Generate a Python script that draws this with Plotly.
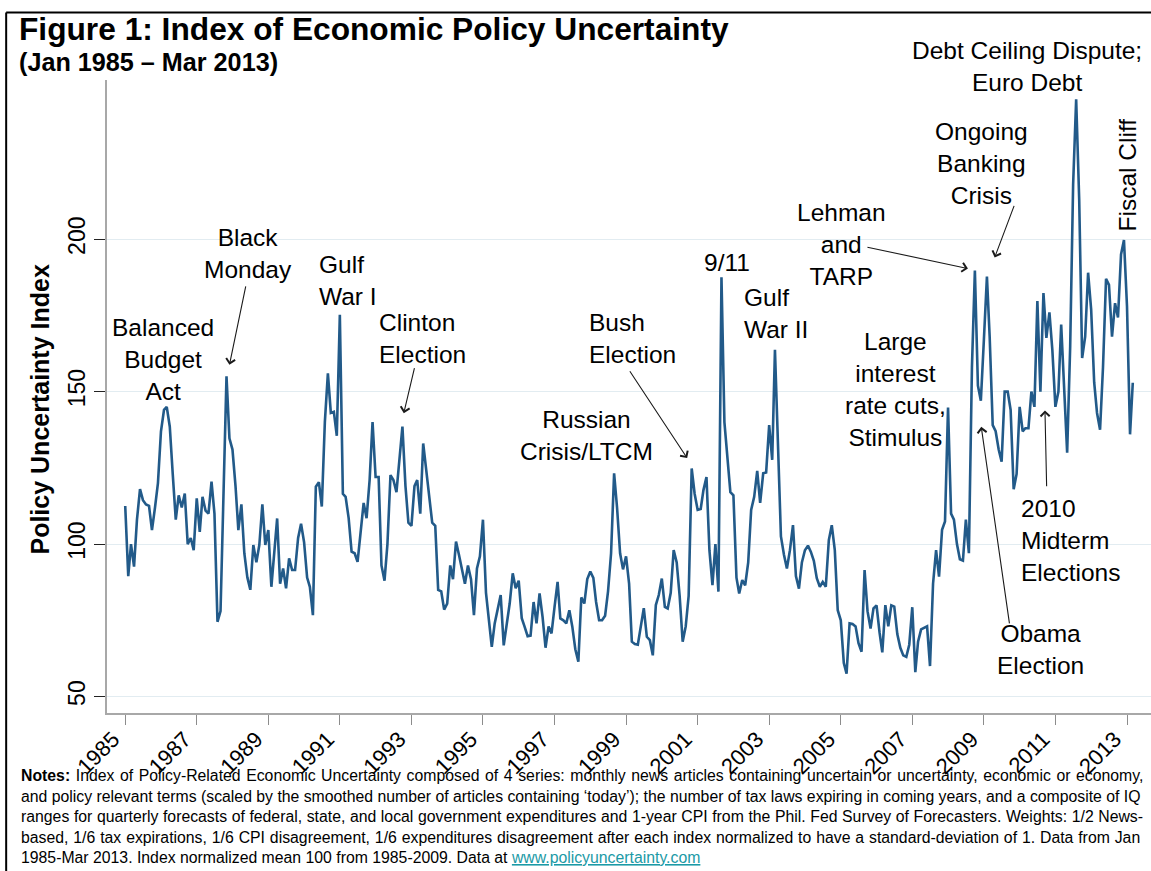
import pandas as pd
import plotly.graph_objects as go

# ---------------- data (monthly index) ----------------
epu_1985 = [112.5, 89.5, 100, 92.6, 108, 118, 114.4, 113, 112.5, 104.6, 112, 120]
epu_1986 = [137, 144, 145, 138.5, 123, 108, 116, 112, 116.6, 100, 102, 98]
epu_1987 = [115, 104, 115.5, 111, 110, 120.5, 110, 74.5, 78, 117, 155, 134.7]
epu_1988 = [131, 119, 104.6, 113, 97, 89, 85, 99.7, 94, 99.7, 113, 99.7]
epu_1989 = [104.6, 86, 97, 108.4, 87, 92, 85.5, 95.3, 91.5, 91.5, 102, 106.7]
epu_1990 = [100.6, 89, 86, 76.7, 118.8, 120.3, 112.3, 140, 156, 143, 143.4, 135.5]
epu_1991 = [175.2, 116.5, 115.5, 108.5, 97.5, 97, 94.2, 103, 113.5, 108.5, 121, 140]
epu_1992 = [122, 122, 93, 88, 100, 122.6, 121, 117, 127, 138.5, 119, 107]
epu_1993 = [106, 119, 121, 110, 133, 124, 116, 107, 106, 85, 84.5, 78.5]
epu_1994 = [80.5, 93, 88.5, 100.8, 96.5, 91.5, 87, 93, 88.5, 76.7, 92, 96]
epu_1995 = [108, 84, 76, 66.3, 74, 79, 83.3, 66.8, 74, 80.5, 90.4, 85.5]
epu_1996 = [88, 75.7, 72.9, 69.8, 70, 81, 74, 83.8, 76, 66, 73, 70.7]
epu_1997 = [79.4, 87.6, 75.6, 75, 74, 78.3, 73, 65.5, 61.4, 82.5, 80.5, 88.5]
epu_1998 = [91, 88.9, 81, 75, 75, 76.5, 84.5, 97, 123.2, 112, 97, 91.7]
epu_1999 = [96, 87, 68, 67.2, 67, 72.5, 79, 69.6, 68.5, 63.5, 80, 83.3]
epu_2000 = [88.7, 79.4, 78.9, 84, 98, 94, 83, 68, 73, 83, 124.8, 116.5]
epu_2001 = [111.2, 111.5, 117.7, 122, 98, 86.5, 100, 84.4, 187.5, 140, 128, 117]
epu_2002 = [116, 89, 83.8, 88.2, 86.5, 94, 111.2, 115.5, 124, 113.5, 123.2, 123.5]
epu_2003 = [139, 127.6, 163.7, 136, 102.5, 96.5, 92, 98, 106.2, 89.5, 85.4, 94]
epu_2004 = [98, 99.5, 97.5, 94.5, 88.8, 86, 87.6, 86, 101.3, 106.2, 98, 78.3]
epu_2005 = [75, 61, 57.5, 74, 73.8, 73, 67.5, 64.7, 91.5, 78, 72.3, 78.9]
epu_2006 = [79.9, 71, 64.5, 80, 73, 79.9, 79.5, 70.5, 66, 63.5, 63, 67]
epu_2007 = [79.3, 58, 68, 72, 72.5, 73, 60, 87, 98, 89.3, 104.7, 107.4]
epu_2008 = [144.8, 110, 108, 100, 95, 94.6, 108, 97, 158, 189.7, 152, 147]
epu_2009 = [167, 187.7, 168, 139, 137, 131, 127, 150, 150, 144, 118, 123]
epu_2010 = [145, 137, 138, 138, 150, 145, 179.7, 150, 182.3, 167.6, 176, 163.6]
epu_2011 = [145, 150, 172, 153, 130, 164.9, 218, 245.9, 213, 161, 168, 189]
epu_2012 = [177, 153, 143, 137.5, 158, 187, 185, 168, 179, 174.3, 195, 199.7]
epu_2013 = [178, 136, 152.9]

yearly = [epu_1985, epu_1986, epu_1987, epu_1988, epu_1989, epu_1990, epu_1991,
          epu_1992, epu_1993, epu_1994, epu_1995, epu_1996, epu_1997, epu_1998,
          epu_1999, epu_2000, epu_2001, epu_2002, epu_2003, epu_2004, epu_2005,
          epu_2006, epu_2007, epu_2008, epu_2009, epu_2010, epu_2011, epu_2012,
          epu_2013]
values = [v for yr in yearly for v in yr]
dates = pd.date_range("1985-01-01", periods=len(values), freq="MS")

tick_years = list(range(1985, 2014, 2))
y_ticks = [50, 100, 150, 200]

notes_lines = [
    "<b>Notes:</b> Index of Policy-Related Economic Uncertainty composed of 4 series: monthly news articles containing uncertain or uncertainty, economic or economy,",
    "and policy relevant terms (scaled by the smoothed number of articles containing \u2018today\u2019); the number of tax laws expiring in coming years, and a composite of IQ",
    "ranges for quarterly forecasts of federal, state, and local government expenditures and 1-year CPI from the Phil. Fed Survey of Forecasters. Weights: 1/2 News-",
    "based, 1/6 tax expirations, 1/6 CPI disagreement, 1/6 expenditures disagreement after each index normalized to have a standard-deviation of 1. Data from Jan",
    "1985-Mar 2013. Index normalized mean 100 from 1985-2009. Data at "
    "<span style='color:#1b9aa6'><u>www.policyuncertainty.com</u></span>",
]
notes_word_spacing = [1.2, 0.0, 0.2, 0.5, 0.0]

# ---------------- layout geometry (pixels) ----------------
W, H = 1151, 871
PL, PR, PT, PB = 107.3, 1151, 80, 713.3


def px(x):
    return (x - PL) / (PR - PL)


def py(y):
    return (PB - y) / (PB - PT)


FONT = "Liberation Sans, Arial, Helvetica, sans-serif"
LINE = "#225a89"

fig = go.Figure()
fig.add_trace(go.Scatter(x=dates, y=values, mode="lines",
                         line=dict(color=LINE, width=2.6), hoverinfo="skip",
                         showlegend=False))

annotations = []


def text(t, x, y, size=24.5, xanchor="center", align="center", angle=0,
         color="#000000", yanchor="middle"):
    annotations.append(dict(
        text=t, x=px(x), y=py(y), xref="paper", yref="paper",
        xanchor=xanchor, yanchor=yanchor, align=align, showarrow=False,
        textangle=angle,
        font=dict(family=FONT, size=size, color=color)))


def arrow(tail, tip):
    annotations.append(dict(
        text="", x=px(tip[0]), y=py(tip[1]), xref="paper", yref="paper",
        ax=tail[0] - tip[0], ay=tail[1] - tip[1], axref="pixel", ayref="pixel",
        showarrow=True, arrowhead=4, arrowsize=1.6, arrowwidth=1.1,
        arrowcolor="#1a1a1a", standoff=0, startstandoff=0))


# title block
text("<b>Figure 1: Index of Economic Policy Uncertainty</b>", 17, 29, size=31.7,
     xanchor="left", align="left")
text("<b>(Jan 1985 \u2013 Mar 2013)</b>", 17, 62, size=25.2, xanchor="left",
     align="left")
text("<b>Policy Uncertainty Index</b>", 40, 410, size=25, angle=-90)

# event labels
text("Balanced<br>Budget<br>Act", 163.5, 360)
text("Black<br>Monday", 248, 254)
text("Gulf<br>War I", 317, 281, xanchor="left", align="left")
text("Clinton<br>Election", 377, 339, xanchor="left", align="left")
text("Russian<br>Crisis/LTCM", 586.5, 436)
text("Bush<br>Election", 587, 339, xanchor="left", align="left")
text("9/11", 727, 263)
text("Gulf<br>War II", 742, 314, xanchor="left", align="left")
text("Lehman<br>and<br>TARP", 842, 245)
text("Large<br>interest<br>rate cuts,<br>Stimulus", 896, 390)
text("Ongoing<br>Banking<br>Crisis", 981.5, 164)
text("Debt Ceiling Dispute;<br>Euro Debt", 1027, 66)
text("Fiscal Cliff", 1127.5, 175, angle=-90)
text("2010<br>Midterm<br>Elections", 1019, 541, xanchor="left", align="left")
text("Obama<br>Election", 1041, 650)

arrow((246.3, 285), (229.7, 365))
arrow((415, 366.7), (404, 413.3))
arrow((629, 370), (687.3, 458.3))
arrow((866, 247), (968, 268.6))
arrow((1014.7, 204.5), (994.7, 257.6))
arrow((1046.7, 488), (1045, 410.6))
arrow((1009.7, 625), (981.3, 427))

# notes, one annotation per printed line
for i, line in enumerate(notes_lines):
    ws = notes_word_spacing[i]
    t = f"<span style='word-spacing:{ws}px'>{line}</span>" if ws else line
    text(t, 19, 776 + 20.5 * i, size=15.8, xanchor="left", align="left")

# outer frame (top and left edges)
shapes = [
    dict(type="line", xref="paper", yref="paper", x0=px(6.5), x1=px(W + 5),
         y0=py(12.5), y1=py(12.5), line=dict(color="#000000", width=2)),
    dict(type="line", xref="paper", yref="paper", x0=px(6.5), x1=px(6.5),
         y0=py(12.5), y1=py(H + 5), line=dict(color="#000000", width=2)),
]

fig.update_layout(
    width=W, height=H,
    margin=dict(l=PL, r=W - PR, t=PT, b=H - PB, autoexpand=False),
    paper_bgcolor="white", plot_bgcolor="white",
    font=dict(family=FONT, color="#000000"),
    annotations=annotations, shapes=shapes, showlegend=False,
    xaxis=dict(
        type="date", range=["1984-06-29", "2013-09-03"],
        tickvals=[pd.Timestamp(f"{y}-01-01") for y in tick_years],
        ticktext=[str(y) for y in tick_years],
        tickangle=-45, tickfont=dict(size=22, family=FONT),
        ticklabelshift=-12, ticklabelstandoff=-7,
        ticks="outside", ticklen=10, tickwidth=1.3, tickcolor="#8c8c8c",
        showgrid=False, zeroline=False, showline=True, linecolor="#a8a8a8",
        linewidth=1.5, fixedrange=True),
    yaxis=dict(
        range=[44.6, 252.2], tickvals=y_ticks, ticktext=[str(v) for v in y_ticks],
        tickangle=-90, tickfont=dict(size=23, family=FONT),
        ticks="outside", ticklen=11, tickwidth=1.3, tickcolor="#222222",
        showgrid=True, gridcolor="#e2ecf1", gridwidth=1,
        zeroline=False, showline=True, linecolor="#a8a8a8", linewidth=1.5,
        fixedrange=True),
)

fig.write_html("out.html", config={"displayModeBar": False},
               post_script="document.body.style.margin='0';document.body.style.overflow='hidden';")
